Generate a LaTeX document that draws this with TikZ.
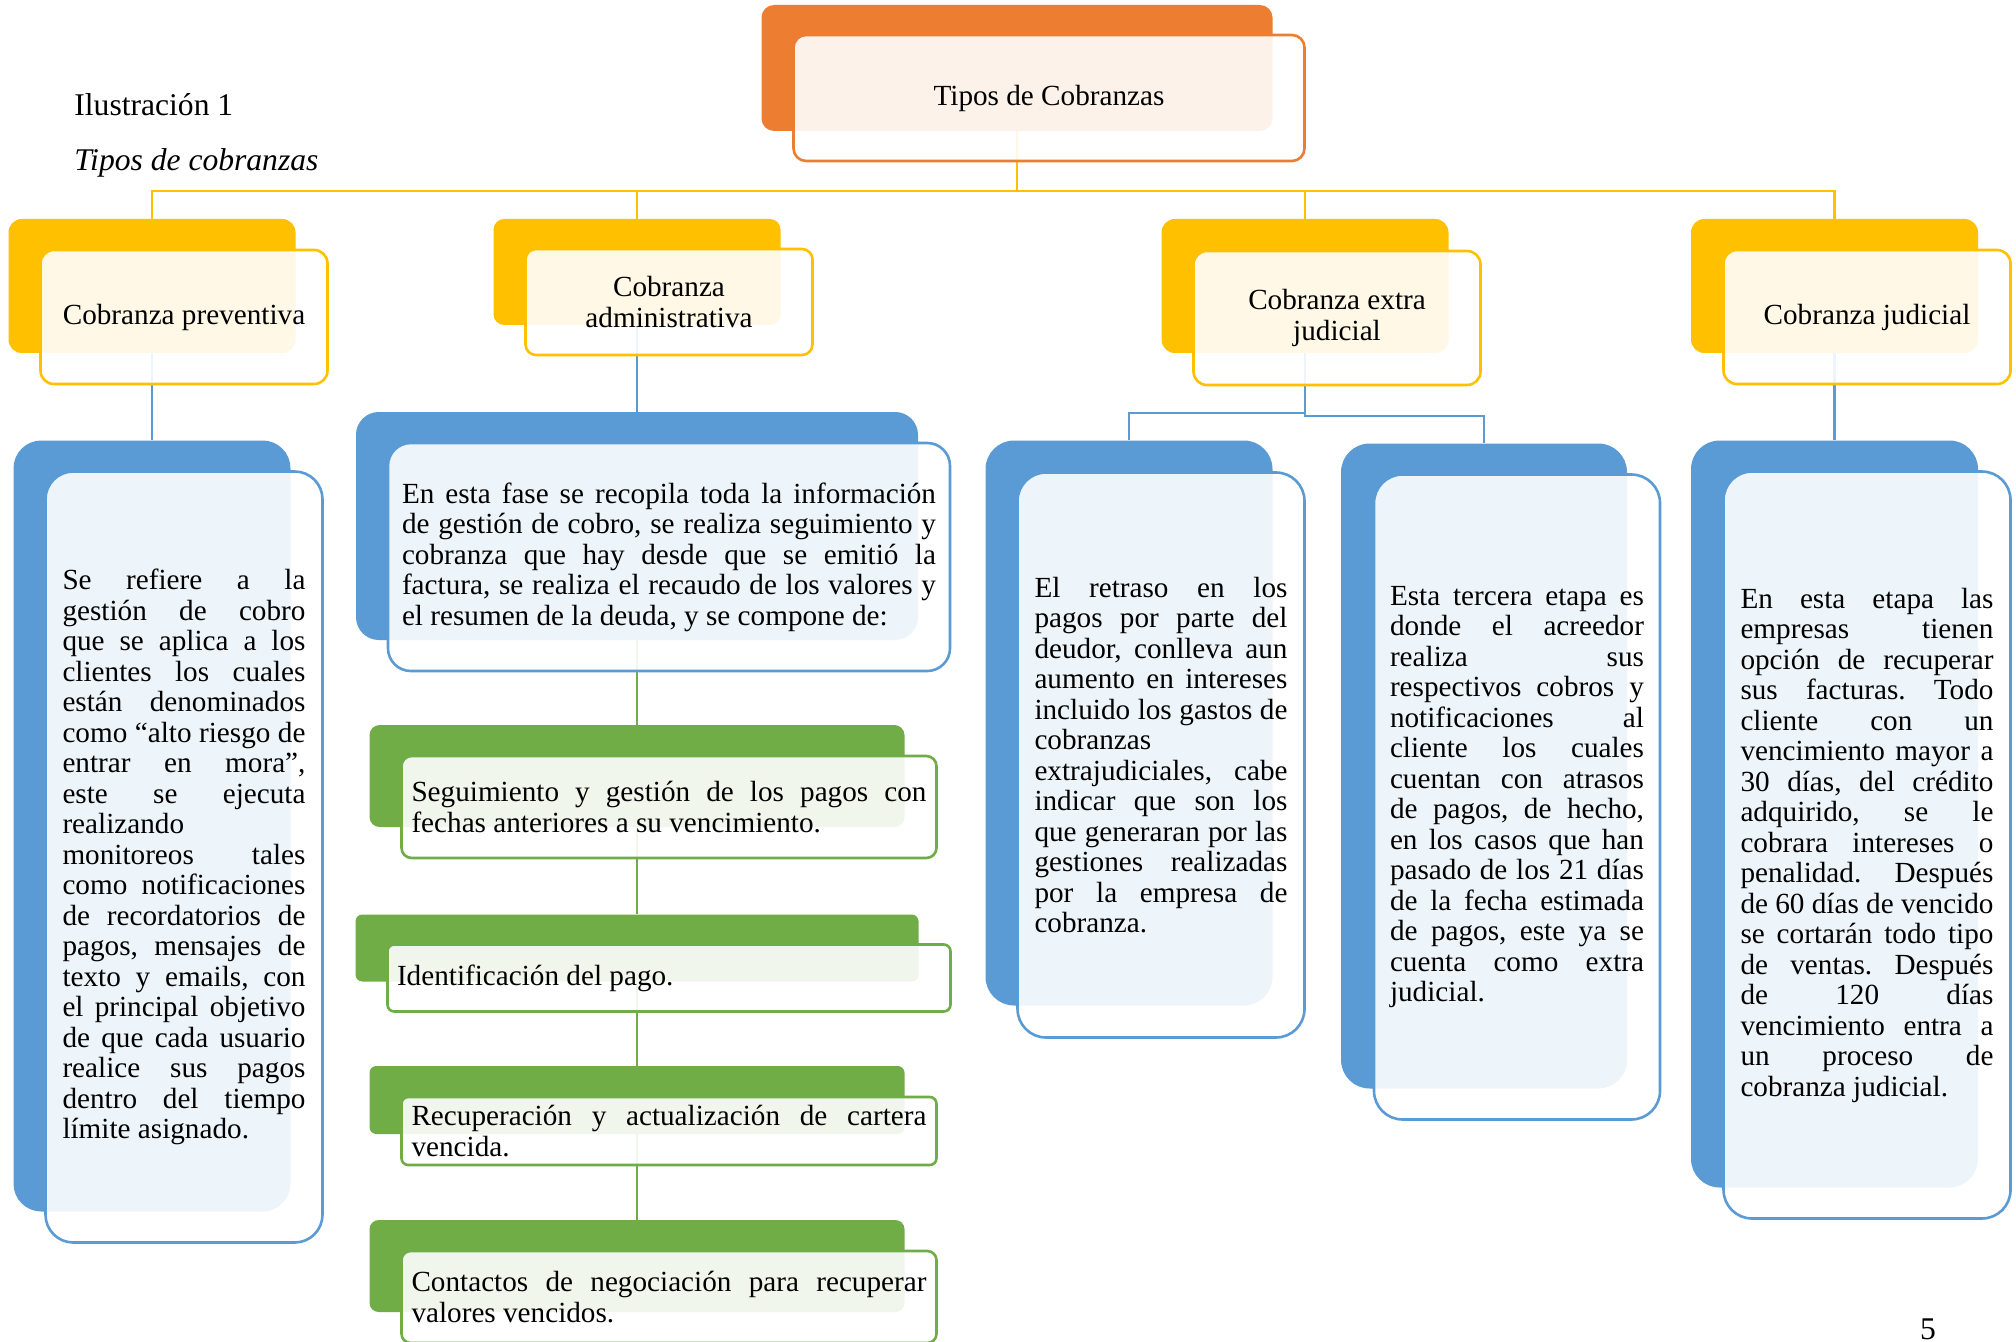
\documentclass[tikz,border=0pt]{standalone}
\usepackage{fontspec}
\setmainfont{Liberation Serif}
\definecolor{corange}{HTML}{ED7D31}
\definecolor{cyellow}{HTML}{FFC000}
\definecolor{cblue}{HTML}{5B9BD5}
\definecolor{cgreen}{HTML}{70AD47}
% a text block of given width made of justified lines and a last line
\newcommand\blk[2]{\vbox{\hsize=#1\relax\parindent=0pt\relax #2}}
\newcommand\jl[1]{\hbox to\hsize{#1}}
\newcommand\lastln[1]{\hbox to\hsize{#1\hfil}}
\hbadness=10000
\hfuzz=6pt
\begin{document}
\begin{tikzpicture}[x=0.5pt,y=-0.5pt,
  cardback/.style={fill=#1, draw=none, inner sep=0pt},
  cardfront/.style={draw=#1, line width=1.3pt, fill=white, fill opacity=0.9,
    text opacity=1, inner sep=0pt},
  wire/.style={draw=#1, line width=1.4pt},
  body/.style={font=\fontsize{14.6}{15.25}\selectfont\frenchspacing},
  head/.style={align=center, font=\fontsize{14.6}{15.5}\selectfont},
  label/.style={anchor=base west, inner sep=0pt, font=\fontsize{15.8}{18}\selectfont},
]
\useasboundingbox (0,0) rectangle (2016,1342);
\fill[white] (0,0) rectangle (2016,1342);
\clip (0,0) rectangle (2016,1342);

% caption and page number
\node[label] (fig) at (74,116) {Ilustración 1};
\node[label, font=\fontsize{15.8}{18}\selectfont\itshape] (cap) at (74,171) {Tipos de cobranzas};
\node[anchor=base, inner sep=0pt, font=\fontsize{15.8}{18}\selectfont] (pg) at (1928,1339) {5};

% ---------- coloured back plates ----------
\node[cardback=corange, rounded corners=6.3pt, minimum width=255.5pt, minimum height=63pt] (topb) at (1017,68) {};

\node[cardback=cyellow, rounded corners=6.7pt, minimum width=143.5pt, minimum height=67pt] (pvb) at (152,286) {};
\node[cardback=cyellow, rounded corners=5.3pt, minimum width=143.5pt, minimum height=53pt] (adb) at (637,272) {};
\node[cardback=cyellow, rounded corners=6.7pt, minimum width=143.5pt, minimum height=67pt] (ejb) at (1305,286) {};
\node[cardback=cyellow, rounded corners=6.7pt, minimum width=143.5pt, minimum height=67pt] (jdb) at (1834.5,286) {};

\node[cardback=cblue, rounded corners=13.9pt, minimum width=138.5pt, minimum height=385.5pt] (pdb) at (152,826) {};
\node[cardback=cblue, rounded corners=11.4pt, minimum width=281pt, minimum height=114pt] (ddb) at (637,526) {};
\node[cardback=cblue, rounded corners=14.3pt, minimum width=143.5pt, minimum height=282.5pt] (e1b) at (1129,723) {};
\node[cardback=cblue, rounded corners=14.3pt, minimum width=143pt, minimum height=322.5pt] (e2b) at (1484,766) {};
\node[cardback=cblue, rounded corners=14.3pt, minimum width=143.5pt, minimum height=373.5pt] (jddb) at (1834.5,814) {};

\node[cardback=cgreen, rounded corners=5.1pt, minimum width=267.5pt, minimum height=51pt] (g1b) at (637,776) {};
\node[cardback=cgreen, rounded corners=3.4pt, minimum width=281.5pt, minimum height=33.5pt] (g2b) at (637,948) {};
\node[cardback=cgreen, rounded corners=3.4pt, minimum width=267.5pt, minimum height=34pt] (g3b) at (637,1100) {};
\node[cardback=cgreen, rounded corners=4.6pt, minimum width=267.5pt, minimum height=46pt] (g4b) at (637,1266) {};

% ---------- connectors ----------
\coordinate (bus) at (0,191);
\draw[wire=cyellow] (topb.south) -- (topb.south |- bus) -| (pvb.north);
\draw[wire=cyellow] (topb.south) -- (topb.south |- bus) -| (adb.north);
\draw[wire=cyellow] (topb.south) -- (topb.south |- bus) -| (ejb.north);
\draw[wire=cyellow] (topb.south) -- (topb.south |- bus) -| (jdb.north);

\draw[wire=cblue] (pvb.south) -- (pdb.north);
\draw[wire=cblue] (adb.south) -- (adb.south |- ddb.north);
\coordinate (ejbusl) at (0,413);
\coordinate (ejbusr) at (0,416);
\draw[wire=cblue] (ejb.south) -- (ejb.south |- ejbusl) -| (e1b.north);
\draw[wire=cblue] (ejb.south) -- (ejb.south |- ejbusr) -| (e2b.north);
\draw[wire=cblue] (jdb.south) -- (jddb.north);

\draw[wire=cgreen] (ddb.south) -- (ddb.south |- g1b.north);
\draw[wire=cgreen] (g1b.south) -- (g1b.south |- g2b.north);
\draw[wire=cgreen] (g2b.south) -- (g2b.south |- g3b.north);
\draw[wire=cgreen] (g3b.south) -- (g3b.south |- g4b.north);

% ---------- front cards with their texts ----------
\node[cardfront=corange, rounded corners=6.3pt, minimum width=255.5pt, minimum height=63pt, head] (topf) at (1049,98) {Tipos de Cobranzas};

\node[cardfront=cyellow, rounded corners=6.7pt, minimum width=143.5pt, minimum height=67pt, head] (pvf) at (184,317) {Cobranza preventiva};
\node[cardfront=cyellow, rounded corners=5.3pt, minimum width=143.5pt, minimum height=53pt, head] (adf) at (669,302) {Cobranza\\administrativa};
\node[cardfront=cyellow, rounded corners=6.7pt, minimum width=143.5pt, minimum height=67pt, head] (ejf) at (1337,318) {Cobranza extra\\judicial};
\node[cardfront=cyellow, rounded corners=6.7pt, minimum width=143.5pt, minimum height=67pt, head] (jdf) at (1867,317) {Cobranza judicial};

\node[cardfront=cblue, rounded corners=13.9pt, minimum width=138.5pt, minimum height=385.5pt, body] (pdf) at (184,857) {\blk{121.5pt}{%
\jl{Se refiere a la}
\jl{gestión de cobro}
\jl{que se aplica a los}
\jl{clientes los cuales}
\jl{están denominados}
\jl{como “alto riesgo de}
\jl{entrar en mora”,}
\jl{este se ejecuta}
\jl{realizando\hfil}
\jl{monitoreos tales}
\jl{como notificaciones}
\jl{de recordatorios de}
\jl{pagos, mensajes de}
\jl{texto y emails, con}
\jl{el principal objetivo}
\jl{de que cada usuario}
\jl{realice sus pagos}
\jl{dentro del tiempo}
\lastln{límite asignado.}}};

\node[cardfront=cblue, rounded corners=11.4pt, minimum width=281pt, minimum height=114pt, body] (ddf) at (669,557) {\blk{267pt}{%
\jl{En esta fase se recopila toda la información}
\jl{de gestión de cobro, se realiza seguimiento y}
\jl{cobranza que hay desde que se emitió la}
\jl{factura, se realiza el recaudo de los valores y}
\lastln{el resumen de la deuda, y se compone de:}}};

\node[cardfront=cgreen, rounded corners=5.1pt, minimum width=267.5pt, minimum height=51pt, body] (g1f) at (669,807) {\blk{257.5pt}{%
\jl{Seguimiento y gestión de los pagos con}
\lastln{fechas anteriores a su vencimiento.}}};
\node[cardfront=cgreen, rounded corners=3.4pt, minimum width=281.5pt, minimum height=33.5pt, body] (g2f) at (669,978) {\blk{272pt}{%
\lastln{Identificación del pago.}}};
\node[cardfront=cgreen, rounded corners=3.4pt, minimum width=267.5pt, minimum height=34pt, body] (g3f) at (669,1131) {\blk{257.5pt}{%
\jl{Recuperación y actualización de cartera}
\lastln{vencida.}}};
\node[cardfront=cgreen, rounded corners=4.6pt, minimum width=267.5pt, minimum height=46pt, body] (g4f) at (669,1297) {\blk{257.5pt}{%
\jl{Contactos de negociación para recuperar}
\lastln{valores vencidos.}}};

\node[cardfront=cblue, rounded corners=14.3pt, minimum width=143.5pt, minimum height=282.5pt, body] (e1f) at (1161,755) {\blk{126.5pt}{%
\jl{El retraso en los}
\jl{pagos por parte del}
\jl{deudor, conlleva aun}
\jl{aumento en intereses}
\jl{incluido los gastos de}
\jl{cobranzas\hfil}
\jl{extrajudiciales, cabe}
\jl{indicar que son los}
\jl{que generaran por las}
\jl{gestiones realizadas}
\jl{por la empresa de}
\lastln{cobranza.}}};

\node[cardfront=cblue, rounded corners=14.3pt, minimum width=143pt, minimum height=322.5pt, body] (e2f) at (1517,797) {\blk{127pt}{%
\jl{Esta tercera etapa es}
\jl{donde el acreedor}
\jl{realiza sus}
\jl{respectivos cobros y}
\jl{notificaciones al}
\jl{cliente los cuales}
\jl{cuentan con atrasos}
\jl{de pagos, de hecho,}
\jl{en los casos que han}
\jl{pasado de los 21 días}
\jl{de la fecha estimada}
\jl{de pagos, este ya se}
\jl{cuenta como extra}
\lastln{judicial.}}};

\node[cardfront=cblue, rounded corners=14.3pt, minimum width=143.5pt, minimum height=373.5pt, body] (jddf) at (1867,845) {\blk{126.5pt}{%
\jl{En esta etapa las}
\jl{empresas tienen}
\jl{opción de recuperar}
\jl{sus facturas. Todo}
\jl{cliente con un}
\jl{vencimiento mayor a}
\jl{30 días, del crédito}
\jl{adquirido, se le}
\jl{cobrara intereses o}
\jl{penalidad. Después}
\jl{de 60 días de vencido}
\jl{se cortarán todo tipo}
\jl{de ventas. Después}
\jl{de 120 días}
\jl{vencimiento entra a}
\jl{un proceso de}
\lastln{cobranza judicial.}}};
\end{tikzpicture}
\end{document}
